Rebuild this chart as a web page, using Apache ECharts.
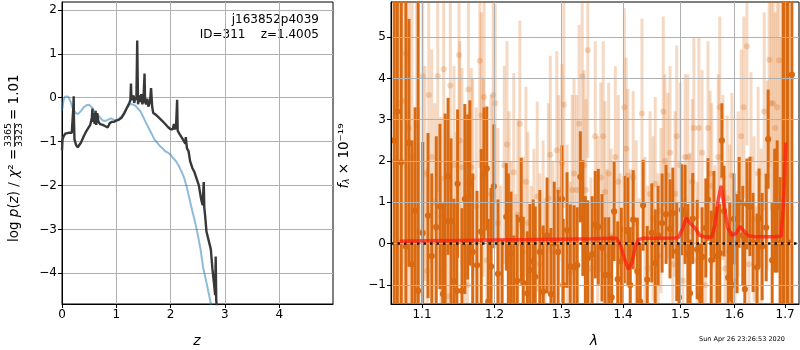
<!DOCTYPE html>
<html><head><meta charset="utf-8">
<script src="https://cdn.jsdelivr.net/npm/echarts@6/dist/echarts.min.js"></script>
<style>html,body{margin:0;padding:0;background:#fff}#c{width:800px;height:350px}</style>
</head><body><div id="c"></div>
<script>
// ---------- left panel: p(z) ----------
const zBlack = [0.00,0.01,0.03,0.06,0.09,0.12,0.15,0.18,0.20,0.21,0.215,0.22,0.23,0.26,0.29,0.32,0.35,0.40,0.44,0.48,0.52,0.55,0.56,0.57,0.59,0.60,0.62,0.63,0.65,0.67,0.70,0.75,0.80,0.84,0.88,0.92,0.96,1.00,1.05,1.10,1.15,1.20,1.24,1.26,1.27,1.28,1.30,1.32,1.33,1.35,1.37,1.385,1.40,1.42,1.44,1.46,1.48,1.50,1.52,1.53,1.55,1.57,1.59,1.62,1.64,1.66,1.68,1.72,1.78,1.84,1.90,1.96,2.00,2.04,2.06,2.08,2.10,2.12,2.13,2.16,2.20,2.24,2.27,2.28,2.30,2.33,2.36,2.40,2.44,2.48,2.52,2.56,2.59,2.61,2.62,2.64,2.66,2.70,2.74,2.77,2.80,2.82,2.83,2.84,2.86];
const pzBlack = [-1.20,-0.95,-0.88,-0.82,-0.78,-0.80,-0.76,-0.80,-0.78,-0.20,0.03,-0.50,-0.95,-1.08,-1.13,-1.12,-1.02,-0.88,-0.78,-0.70,-0.62,-0.45,-0.25,-0.55,-0.35,-0.60,-0.30,-0.62,-0.35,-0.55,-0.60,-0.62,-0.65,-0.68,-0.58,-0.55,-0.55,-0.52,-0.50,-0.45,-0.35,-0.22,-0.12,-0.05,0.32,-0.05,-0.08,0.05,-0.12,0.00,-0.05,1.30,-0.15,0.05,-0.10,0.08,-0.15,-0.05,0.55,-0.10,-0.15,-0.02,-0.20,-0.10,0.22,-0.20,-0.35,-0.38,-0.45,-0.52,-0.60,-0.68,-0.72,-0.72,-0.60,-0.72,-0.65,-0.05,-0.75,-0.82,-0.90,-0.98,-1.05,-0.90,-1.15,-1.22,-1.45,-1.60,-1.70,-1.85,-2.00,-2.30,-2.45,-1.92,-2.50,-2.75,-3.05,-3.25,-3.45,-3.90,-4.25,-4.50,-3.62,-4.60,-5.00];
const zBlue = [0.00,0.03,0.06,0.09,0.12,0.16,0.20,0.25,0.30,0.35,0.40,0.45,0.50,0.55,0.60,0.65,0.70,0.75,0.80,0.85,0.90,0.95,1.00,1.05,1.10,1.15,1.20,1.25,1.30,1.35,1.40,1.45,1.50,1.55,1.60,1.65,1.70,1.75,1.80,1.85,1.90,1.95,2.00,2.05,2.10,2.15,2.20,2.25,2.30,2.35,2.40,2.45,2.50,2.55,2.60,2.65,2.70,2.76];
const pzBlue = [-0.30,-0.05,0.03,0.05,0.02,-0.10,-0.25,-0.35,-0.37,-0.30,-0.22,-0.17,-0.16,-0.22,-0.32,-0.38,-0.45,-0.52,-0.53,-0.50,-0.47,-0.50,-0.52,-0.48,-0.42,-0.32,-0.22,-0.15,-0.15,-0.18,-0.25,-0.32,-0.45,-0.58,-0.70,-0.82,-0.95,-1.02,-1.10,-1.15,-1.22,-1.25,-1.30,-1.38,-1.45,-1.55,-1.68,-1.83,-2.05,-2.32,-2.58,-2.83,-3.12,-3.45,-3.88,-4.15,-4.45,-4.80];
const zTicks = [0,1,2,3,4];
const pzTicks = [-4,-3,-2,-1,0,1,2];

// ---------- right panel: spectrum ----------
const darkWave = [
 1.064,1.068,1.073,1.079,1.083,1.087,1.091,1.095,1.101,1.108,
 1.113,1.119,1.124,1.128,1.131,1.135,1.139,1.143,1.147,1.148,
 1.154,1.158,1.162,1.165,1.169,1.175,1.181,1.185,1.189,1.191,
 1.195,1.199,1.205,1.211,1.217,1.220,1.224,1.228,1.233,1.239,
 1.242,1.248,1.252,1.257,1.260,1.267,1.272,1.278,1.284,1.289,
 1.295,1.301,1.303,1.309,1.314,1.320,1.325,1.330,1.334,1.338,
 1.342,1.349,1.354,1.359,1.365,1.370,1.376,1.381,1.385,1.391,
 1.397,1.402,1.408,1.412,1.417,1.424,1.429,1.434,1.441,1.449,
 1.455,1.460,1.467,1.474,1.481,1.486,1.493,1.497,1.502,1.508,
 1.513,1.517,1.522,1.530,1.535,1.539,1.546,1.550,1.556,1.561,
 1.567,1.572,1.576,1.580,1.588,1.591,1.595,1.599,1.605,1.609,
 1.616,1.620,1.624,1.630,1.636,1.644,1.648,1.654,1.662,1.666,
 1.674,1.679,1.684,1.690,1.696,1.701,1.706,1.714];
const darkFlux = [
 2.5,3.2,1.97,-0.07,2.44,-0.5,0.8,-1.14,0.26,0.68,
 -0.3,0.40,0.9,-1.22,0.55,1.63,0.55,-0.91,-1.14,1.45,
 -1.14,1.08,1.13,1.47,-0.2,-0.52,0.29,1.7,1.82,-1.4,
 -0.55,1.39,-0.73,-1.7,0.65,0.1,-0.24,-1.5,-0.9,0.58,
 -0.95,-1.2,-0.64,-0.43,-0.8,-0.2,-1.16,0.2,-1.22,0.0,
 -0.2,1.08,-1.0,0.33,-0.55,-0.57,-0.52,1.62,0.62,-0.35,
 -0.35,-0.25,0.46,0.41,-0.1,-0.76,-0.76,-1.3,0.78,-0.86,
 -0.43,0.34,0.3,-1.0,0.58,-0.67,-1.4,0.93,-0.87,0.26,
 -0.47,0.2,0.5,0.71,0.36,0.74,-0.19,-1.3,0.82,0.71,
 -0.24,-1.2,0.61,-0.14,-1.3,-0.32,0.38,1.07,-0.4,0.66,
 -0.3,-0.23,2.5,0.79,-0.82,-0.2,-1.0,0.6,0.0,1.0,
 0.2,-1.1,0.96,0.9,0.03,-0.57,0.62,-0.07,0.39,2.53,
 -0.4,0.8,0.9,0.01,1.0,-0.5,0.03,4.09];
const darkErr = [
 9,9,8,8,3.0,3.0,2.5,8,2.2,2.0,
 2.0,2.2,2.0,2.2,2.6,1.9,2.0,2.0,2.1,1.8,
 2.0,2.3,2.0,2.0,1.9,1.8,2.0,1.6,1.5,2.0,
 1.9,1.5,1.8,1.8,1.3,1.6,1.5,1.7,1.6,1.5,
 1.6,1.5,1.6,1.5,1.7,1.5,1.6,1.4,1.6,1.5,
 1.5,1.3,1.6,1.4,1.5,1.5,1.4,1.1,1.4,1.5,
 1.4,1.4,1.3,1.4,1.3,1.4,1.4,1.5,1.2,1.4,
 1.3,1.3,1.3,1.4,1.2,1.3,1.4,1.1,1.3,1.2,
 1.3,1.2,1.2,1.2,1.2,1.1,1.2,1.3,1.1,1.2,
 1.2,1.3,1.1,1.2,1.3,1.2,1.2,1.0,1.2,1.1,
 1.2,1.2,0.9,1.1,1.2,1.2,1.3,1.1,1.2,1.1,
 1.2,1.3,1.1,1.2,1.2,1.3,1.2,1.3,1.3,1.2,
 1.4,1.5,1.6,1.6,9,9,9,9];

const lightWave = [
 1.065,1.070,1.075,1.079,1.083,1.087,1.093,1.096,1.101,1.104,
 1.107,1.109,1.113,1.117,1.121,1.125,1.127,1.129,1.135,1.138,
 1.143,1.146,1.150,1.151,1.154,1.158,1.162,1.163,1.167,1.169,
 1.174,1.179,1.181,1.184,1.185,1.189,1.195,1.198,1.201,1.205,
 1.209,1.214,1.218,1.221,1.224,1.228,1.231,1.234,1.237,1.242,
 1.246,1.249,1.254,1.258,1.263,1.267,1.272,1.275,1.280,1.283,
 1.287,1.293,1.296,1.301,1.304,1.309,1.314,1.317,1.320,1.324,
 1.328,1.333,1.336,1.339,1.342,1.347,1.354,1.358,1.363,1.367,
 1.370,1.373,1.376,1.380,1.387,1.392,1.395,1.402,1.405,1.408,
 1.412,1.417,1.422,1.427,1.432,1.437,1.442,1.446,1.451,1.455,
 1.460,1.465,1.469,1.472,1.477,1.481,1.486,1.490,1.493,1.499,
 1.504,1.508,1.513,1.517,1.521,1.524,1.530,1.533,1.539,1.545,
 1.550,1.554,1.557,1.563,1.569,1.572,1.578,1.582,1.586,1.591,
 1.595,1.601,1.607,1.613,1.618,1.624,1.628,1.632,1.638,1.642,
 1.646,1.652,1.658,1.664,1.668,1.672,1.676,1.680,1.684,1.688,
 1.692,1.698];
const lightFlux = [
 2.0,3.4,3.46,4.6,2.8,2.1,2.85,0.3,4.05,1.7,
 -0.66,3.6,2.1,1.0,4.05,0.67,-0.66,4.22,-1.27,3.83,
 1.9,0.4,4.57,2.5,1.85,0.2,-1.0,3.73,1.85,1.6,
 0.9,4.43,3.1,1.6,3.55,-0.4,1.2,3.6,3.4,0.5,
 -0.9,1.9,2.4,0.9,-0.3,1.73,-1.0,0.7,2.9,-0.2,
 1.5,0.5,-0.8,0.1,1.14,-0.5,0.3,-1.1,1.1,2.15,
 -0.2,2.26,1.3,1.95,3.36,0.2,-0.7,1.3,1.7,1.3,
 2.9,4.05,1.9,1.3,4.68,-0.6,2.6,0.4,1.6,2.6,
 1.25,-0.3,1.7,0.2,2.1,1.5,-0.4,3.3,2.3,1.65,
 -0.2,1.6,0.5,-0.9,3.15,0.1,-0.6,1.2,0.6,1.45,
 -0.3,0.8,3.2,2.0,1.65,2.2,-0.5,1.2,2.6,1.9,
 -0.9,2.1,2.1,0.3,1.5,2.8,-0.4,2.8,2.2,-1.0,
 2.8,1.7,1.4,0.0,2.1,3.3,1.6,-0.6,1.1,0.5,
 1.65,-0.9,1.2,2.6,3.3,4.78,-0.5,2.05,0.6,-1.1,
 1.7,0.2,3.2,1.65,4.45,3.4,3.4,2.8,3.3,4.44,
 1.0,2.0];
const lightErr = [
 9,9,8,8,7,6,4,3,2.8,2.6,
 2.5,2.6,2.6,2.4,2.8,2.4,2.3,2.7,2.3,2.6,
 2.4,2.3,2.6,2.4,2.4,2.3,2.3,2.5,2.4,2.4,
 2.4,2.6,2.5,2.4,2.5,2.3,2.4,2.5,2.4,2.3,
 2.3,2.4,2.5,2.3,2.3,2.4,2.2,2.3,2.5,2.3,
 2.3,2.2,2.2,2.2,2.3,2.2,2.2,2.2,2.3,2.4,
 2.2,2.4,2.3,2.4,2.5,2.2,2.2,2.3,2.3,2.3,
 2.4,2.5,2.3,2.2,2.6,2.2,2.3,2.2,2.3,2.3,
 2.2,2.1,2.2,2.1,2.2,2.1,2.1,2.4,2.2,2.1,
 2.0,2.1,2.0,2.0,2.3,2.0,2.0,2.0,2.0,2.1,
 2.0,2.0,2.3,2.1,2.0,2.1,2.0,2.0,2.2,2.0,
 2.0,2.0,2.0,1.9,2.0,2.2,1.9,2.2,2.0,2.0,
 2.1,2.0,2.0,1.9,2.0,2.2,2.0,1.9,2.0,1.9,
 2.0,1.9,2.0,2.1,2.2,2.4,2.0,2.1,2.0,2.0,
 2.1,2.1,2.4,2.3,2.6,2.6,2.7,2.8,3.0,3.2,
 4,6];

const modelWave = [1.071,1.10,1.15,1.20,1.25,1.30,1.35,1.389,1.396,1.403,1.409,1.415,1.421,1.426,1.435,1.46,1.49,1.496,1.503,1.510,1.517,1.526,1.535,1.545,1.557,1.563,1.569,1.5745,1.580,1.587,1.595,1.603,1.611,1.619,1.627,1.64,1.66,1.68,1.692,1.697,1.7015];
const modelFlux = [0.06,0.07,0.08,0.09,0.10,0.11,0.12,0.13,-0.05,-0.40,-0.62,-0.45,-0.05,0.10,0.13,0.13,0.14,0.15,0.35,0.62,0.50,0.38,0.20,0.16,0.16,0.45,1.05,1.40,0.95,0.40,0.20,0.25,0.42,0.30,0.19,0.17,0.17,0.17,0.18,1.0,2.45];
const waveTicks = [1.1,1.2,1.3,1.4,1.5,1.6,1.7];
const fluxTicks = [-1,0,1,2,3,4,5];

const WMIN = 1.0599, WMAX = 1.7287, FMIN = -1.46, FMAX = 5.85;
const DARK = '#d96a12';
const LIGHT = 'rgba(217,104,15,0.25)';
const FONT = 'DejaVu Sans';

const minus = v => String(v).replace('-', '\u2212');

function errRender(color, lw, r) {
  return function (params, api) {
    const x = api.value(0), v = api.value(1), e = api.value(2);
    const lo = Math.max(v - e, FMIN), hi = Math.min(v + e, FMAX);
    const children = [];
    if (hi > lo) {
      const p1 = api.coord([x, lo]), p2 = api.coord([x, hi]);
      children.push({type: 'line', shape: {x1: p1[0], y1: p1[1], x2: p2[0], y2: p2[1]},
        style: {stroke: color, lineWidth: lw}});
    }
    if (v >= FMIN && v <= FMAX) {
      const c = api.coord([x, v]);
      children.push({type: 'circle', shape: {cx: c[0], cy: c[1], r: r}, style: {fill: color}});
    }
    return {type: 'group', children: children};
  };
}

function axisCommon(ticks, fmt, z) {
  return {
    z: z,
    axisLine: {show: true, onZero: false, lineStyle: {color: '#000', width: 1}},
    axisTick: {show: true, inside: false, length: 4, customValues: ticks, lineStyle: {color: '#000', width: 1}},
    axisLabel: {customValues: ticks, color: '#000', fontFamily: FONT, fontSize: 12, margin: 5, formatter: fmt},
    splitLine: {show: true, lineStyle: {color: '#b0b0b0', width: 1}}
  };
}

const chart = echarts.init(document.getElementById('c'), null, {renderer: 'canvas'});
const option = {
  animation: false,
  backgroundColor: '#fff',
  grid: [
    {left: 62, top: 2, width: 271, height: 302, show: true, borderColor: '#000', borderWidth: 1, backgroundColor: 'transparent'},
    {left: 391, top: 2, width: 408, height: 302, show: true, borderColor: '#000', borderWidth: 1, backgroundColor: 'transparent'}
  ],
  xAxis: [
    Object.assign({type: 'value', gridIndex: 0, min: 0, max: 4.99}, axisCommon(zTicks, minus, 0)),
    Object.assign({type: 'value', gridIndex: 1, min: Math.log(WMIN), max: Math.log(WMAX)},
      axisCommon(waveTicks.map(Math.log), v => Math.exp(v).toFixed(1), 5))
  ],
  yAxis: [
    Object.assign({type: 'value', gridIndex: 0, min: -4.70, max: 2.18}, axisCommon(pzTicks, minus, 0)),
    Object.assign({type: 'value', gridIndex: 1, min: FMIN, max: FMAX}, axisCommon(fluxTicks, minus, 5))
  ],
  series: [
    {type: 'line', xAxisIndex: 0, yAxisIndex: 0, symbol: 'none', z: 3,
     lineStyle: {color: 'rgba(31,119,180,0.5)', width: 2},
     data: zBlue.map((z, i) => [z, pzBlue[i]])},
    {type: 'line', xAxisIndex: 0, yAxisIndex: 0, symbol: 'none', z: 4,
     lineStyle: {color: '#383838', width: 2.4},
     data: zBlack.map((z, i) => [z, pzBlack[i]])},
    {type: 'custom', xAxisIndex: 1, yAxisIndex: 1, z: 2, clip: true, silent: true,
     encode: {x: 0, y: 1}, renderItem: errRender(LIGHT, 3, 3),
     data: lightWave.map((w, i) => [Math.log(w), lightFlux[i], lightErr[i]])},
    {type: 'custom', xAxisIndex: 1, yAxisIndex: 1, z: 3, clip: true, silent: true,
     encode: {x: 0, y: 1}, renderItem: errRender(DARK, 3, 3.1),
     data: darkWave.map((w, i) => [Math.log(w), darkFlux[i], darkErr[i]])},
    {type: 'line', xAxisIndex: 1, yAxisIndex: 1, symbol: 'none', z: 10,
     lineStyle: {color: 'rgba(255,25,15,0.72)', width: 3.5},
     data: modelWave.map((w, i) => [Math.log(w), modelFlux[i]]),
     markLine: {silent: true, symbol: ['none', 'none'], label: {show: false},
       lineStyle: {color: '#111', type: [2.5, 4], width: 2.5},
       data: [{yAxis: 0}]}}
  ],
  graphic: [
    {type: 'group', x: 14, y: 242, rotation: Math.PI / 2, children: [
      {type: 'text', x: 0, y: 0, style: {
        text: '{n|log }{i|p}{n|(}{i|z}{n|) / }{i|\u03c7}{n|\u00b2 = }',
        rich: {n: {fontFamily: FONT, fontSize: 13.5, fill: '#000'},
               i: {fontFamily: FONT, fontSize: 13.5, fontStyle: 'italic', fill: '#000'}},
        align: 'left', verticalAlign: 'middle'}},
      {type: 'text', x: 107, y: -5, style: {text: '3365', font: '9.5px "DejaVu Sans"', fill: '#000', align: 'center', verticalAlign: 'middle'}},
      {type: 'line', shape: {x1: 95, y1: 0.5, x2: 119, y2: 0.5}, style: {stroke: '#000', lineWidth: 0.8}},
      {type: 'text', x: 107, y: 6, style: {text: '3323', font: '9.5px "DejaVu Sans"', fill: '#000', align: 'center', verticalAlign: 'middle'}},
      {type: 'text', x: 122, y: 0, style: {text: '= 1.01', font: '13.5px "DejaVu Sans"', fill: '#000', align: 'left', verticalAlign: 'middle'}}
    ]},
    {type: 'text', x: 344, y: 156, rotation: Math.PI / 2, style: {
      text: '{i|f}{s|\u03bb}{n| \u00d7 10\u207b\u00b9\u2079}',
      rich: {n: {fontFamily: FONT, fontSize: 13.5, fill: '#000'},
             i: {fontFamily: FONT, fontSize: 13.5, fontStyle: 'italic', fill: '#000'},
             s: {fontFamily: FONT, fontSize: 9, fontStyle: 'italic', fill: '#000', verticalAlign: 'bottom', padding: [6, 0, 0, 0]}},
      align: 'center', verticalAlign: 'middle'}},
    {type: 'text', x: 197, y: 341, style: {text: 'z', font: 'italic 14px "DejaVu Sans"', fill: '#000', align: 'center', verticalAlign: 'middle'}},
    {type: 'text', x: 594, y: 341, style: {text: '\u03bb', font: 'italic 14px "DejaVu Sans"', fill: '#000', align: 'center', verticalAlign: 'middle'}},
    {type: 'text', x: 319, y: 20, style: {text: 'j163852p4039', font: '12px "DejaVu Sans"', fill: '#000', align: 'right', verticalAlign: 'middle'}},
    {type: 'text', x: 319, y: 35, style: {text: 'ID=311    z=1.4005', font: '12px "DejaVu Sans"', fill: '#000', align: 'right', verticalAlign: 'middle'}},
    {type: 'text', x: 742, y: 339, style: {text: 'Sun Apr 26 23:26:53 2020', font: '6.5px "DejaVu Sans"', fill: '#000', align: 'center', verticalAlign: 'middle'}}
  ]
};
chart.setOption(option);
</script>
</body></html>
